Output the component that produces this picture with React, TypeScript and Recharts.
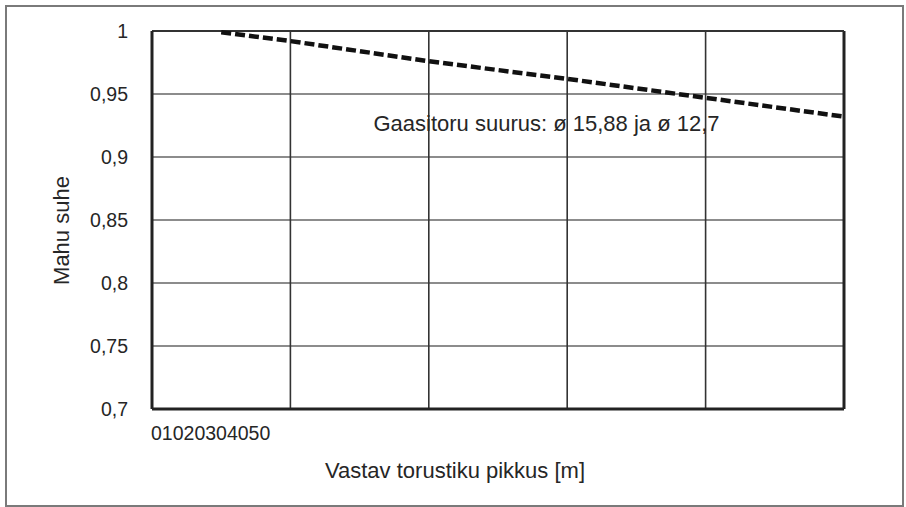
import React from 'react';
import {
  LineChart,
  Line,
  XAxis,
  YAxis,
  CartesianGrid,
  ReferenceLine,
  ReferenceDot,
  Label,
} from 'recharts';

const lengths = [5, 10, 20, 30, 40, 50];
const ratios = [0.999, 0.992, 0.976, 0.962, 0.947, 0.932];
const xTicks = [0, 10, 20, 30, 40, 50];
const xTickLabels = ['0', '10', '20', '30', '40', '50'];
const yTicks = [0.7, 0.75, 0.8, 0.85, 0.9, 0.95, 1];
const yTickLabels = ['0,7', '0,75', '0,8', '0,85', '0,9', '0,95', '1'];
const seriesName = 'Gaasitoru suurus: ø 15,88 ja ø 12,7';
const xTitle = 'Vastav torustiku pikkus [m]';
const yTitle = 'Mahu suhe';
const annotationX = 16;
const annotationY = 0.925;

const data = lengths.map((l, i) => ({ l, r: ratios[i] }));

const FONT = '"Liberation Sans", Arial, Helvetica, sans-serif';
const TEXT = '#262626';

const XTick = (props: any) => {
  const { x, y, payload } = props;
  if (payload && payload.value === xTicks[0]) {
    return (
      <text x={x - 1} y={y + 31} fontFamily={FONT} fontSize={19.5} fill={TEXT} textAnchor="start">
        {xTickLabels.join('')}
      </text>
    );
  }
  return <g />;
};

const YTick = (props: any) => {
  const { x, y, payload } = props;
  const idx = yTicks.indexOf(payload.value);
  return (
    <text x={x} y={y + 7} fontFamily={FONT} fontSize={19.5} fill={TEXT} textAnchor="end">
      {idx >= 0 ? yTickLabels[idx] : String(payload.value)}
    </text>
  );
};

export default function App() {
  return (
    <div style={{ position: 'absolute', left: 0, top: 0, width: 906, height: 507, background: '#fff' }}>
      <div
        style={{
          position: 'absolute',
          left: 5,
          top: 5,
          width: 899,
          height: 502,
          border: '2px solid #7a7a7a',
          boxSizing: 'border-box',
        }}
      />
      <div style={{ position: 'absolute', left: 0, top: 0 }}>
        <LineChart
          width={906}
          height={507}
          data={data}
          margin={{ top: 31, right: 62, bottom: 68, left: 0 }}
        >
          <CartesianGrid horizontal={true} vertical={false} stroke="#8c8c8c" strokeWidth={2} />
          <CartesianGrid horizontal={false} vertical={true} stroke="#333" strokeWidth={1.6} />
          <XAxis
            dataKey="l"
            type="number"
            domain={[0, 50]}
            ticks={xTicks}
            tick={<XTick />}
            tickLine={false}
            tickSize={0}
            tickMargin={0}
            height={30}
            axisLine={{ stroke: '#222', strokeWidth: 3 }}
            interval={0}
          >
            <Label
              content={(p: any) => {
                const vb = p.viewBox;
                return (
                  <text
                    x={vb.x + vb.width / 2 - 43}
                    y={vb.y + 69}
                    fontFamily={FONT}
                    fontSize={22}
                    fill={TEXT}
                    textAnchor="middle"
                  >
                    {xTitle}
                  </text>
                );
              }}
            />
          </XAxis>
          <YAxis
            type="number"
            domain={[0.7, 1]}
            ticks={yTicks}
            tick={<YTick />}
            tickLine={false}
            tickSize={0}
            tickMargin={24}
            width={152}
            axisLine={{ stroke: '#222', strokeWidth: 3 }}
            interval={0}
          >
            <Label
              content={(p: any) => {
                const vb = p.viewBox;
                const cx = vb.x + 69;
                const cy = vb.y + vb.height / 2 + 10.5;
                return (
                  <text
                    x={cx}
                    y={cy}
                    transform={`rotate(-90, ${cx}, ${cy})`}
                    fontFamily={FONT}
                    fontSize={22}
                    fill={TEXT}
                    textAnchor="middle"
                  >
                    {yTitle}
                  </text>
                );
              }}
            />
          </YAxis>
          <ReferenceLine x={50} stroke="#222" strokeWidth={3} />
          <ReferenceLine y={1} stroke="#333" strokeWidth={2} />
          <Line
            type="linear"
            dataKey="r"
            stroke="#111"
            strokeWidth={4.5}
            strokeDasharray="10 4"
            dot={false}
            isAnimationActive={false}
          />
          <ReferenceDot
            x={annotationX}
            y={annotationY}
            r={0}
            fill="none"
            stroke="none"
            label={(p: any) => {
              const vb = p.viewBox;
              return (
                <text
                  x={vb.x}
                  y={vb.y + 5}
                  fontFamily={FONT}
                  fontSize={22}
                  fill={TEXT}
                  textAnchor="start"
                >
                  {seriesName}
                </text>
              );
            }}
          />
        </LineChart>
      </div>
    </div>
  );
}
